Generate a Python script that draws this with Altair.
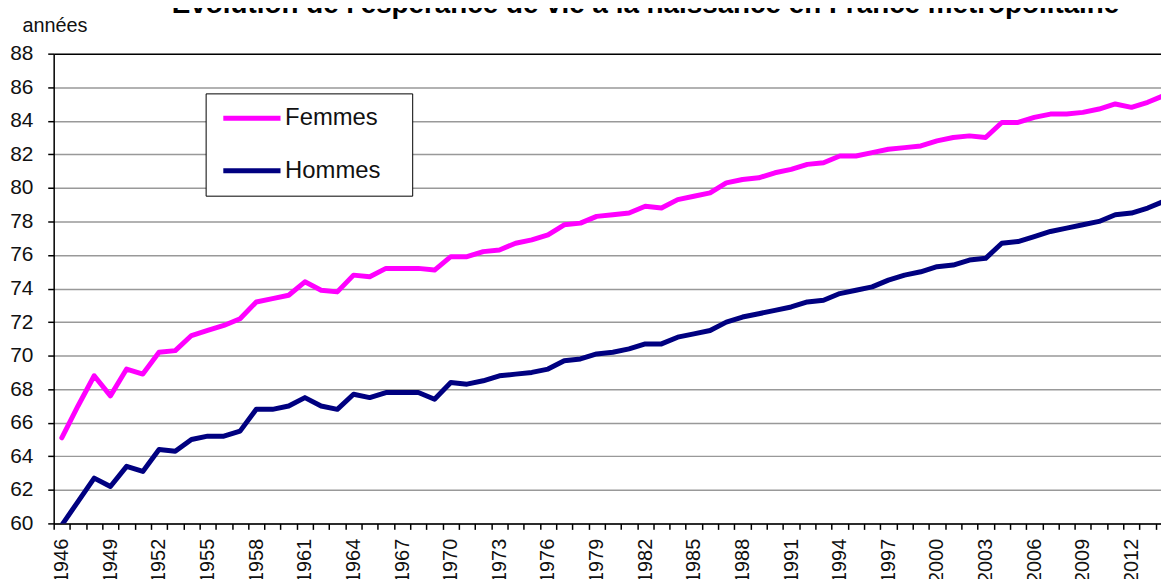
import altair as alt
import pandas as pd

years = list(range(1946, 2015))
femmes = [65.1, 67.0, 68.8, 67.6, 69.2, 68.9, 70.2, 70.3, 71.2, 71.5,
          71.8, 72.2, 73.2, 73.4, 73.6, 74.4, 73.9, 73.8, 74.8, 74.7,
          75.2, 75.2, 75.2, 75.1, 75.9, 75.9, 76.2, 76.3, 76.7, 76.9,
          77.2, 77.8, 77.9, 78.3, 78.4, 78.5, 78.9, 78.8, 79.3, 79.5,
          79.7, 80.3, 80.5, 80.6, 80.9, 81.1, 81.4, 81.5, 81.9, 81.9,
          82.1, 82.3, 82.4, 82.5, 82.8, 83.0, 83.1, 83.0, 83.9, 83.9,
          84.2, 84.4, 84.4, 84.5, 84.7, 85.0, 84.8, 85.1, 85.5]
hommes = [59.9, 61.3, 62.7, 62.2, 63.4, 63.1, 64.4, 64.3, 65.0, 65.2,
          65.2, 65.5, 66.8, 66.8, 67.0, 67.5, 67.0, 66.8, 67.7, 67.5,
          67.8, 67.8, 67.8, 67.4, 68.4, 68.3, 68.5, 68.8, 68.9, 69.0,
          69.2, 69.7, 69.8, 70.1, 70.2, 70.4, 70.7, 70.7, 71.1, 71.3,
          71.5, 72.0, 72.3, 72.5, 72.7, 72.9, 73.2, 73.3, 73.7, 73.9,
          74.1, 74.5, 74.8, 75.0, 75.3, 75.4, 75.7, 75.8, 76.7, 76.8,
          77.1, 77.4, 77.6, 77.8, 78.0, 78.4, 78.5, 78.8, 79.2]
series_names = ["Femmes", "Hommes"]
series_colors = ["#FF00FF", "#000080"]
y_ticks = list(range(60, 89, 2))
title_text = "Évolution de l'espérance de vie à la naissance en France métropolitaine"
y_title = "années"

df = pd.DataFrame({
    "annee": years + years,
    "esperance": femmes + hommes,
    "sexe": [series_names[0]] * len(years) + [series_names[1]] * len(years),
})
title_df = pd.DataFrame({"titre": [title_text]})

boundaries = [y - 0.5 for y in years]
FONT = "Liberation Sans"
PLOT_W = 1115
PLOT_H = 473
X_MIN = years[0] - 0.5
X_MAX = X_MIN + PLOT_W / 16.32
step_px = PLOT_W / (X_MAX - X_MIN)

x_axis = alt.Axis(
    values=boundaries,
    labelExpr="(datum.value + 0.5 - 1946) % 3 == 0 ? format(datum.value + 0.5, 'd') : ''",
    labelAngle=-90, labelOffset=step_px / 2, labelPadding=9,
    tickSize=6, tickColor="black", tickWidth=1.5,
    domainColor="black", domainWidth=1.5,
    grid=False, title=None,
    labelFont=FONT, labelFontSize=20, labelColor="#111",
    labelOverlap=False, labelFlush=False, labelBound=False,
)

y_axis = alt.Axis(
    values=y_ticks, grid=True,
    gridColor={"condition": {"test": "datum.value == 88", "value": "#000000"}, "value": "#999999"},
    gridWidth=1.5,
    tickSize=6, tickColor="black", tickWidth=1.5,
    domainColor="black", domainWidth=1.5,
    labelFont=FONT, labelFontSize=21, labelColor="#111", labelPadding=15,
    title=y_title, titleAngle=0, titleAlign="left", titleBaseline="alphabetic",
    titleX=-32, titleY=-22, titleFont=FONT, titleFontSize=20,
    titleFontWeight="normal", titleColor="#111",
)

legend = alt.Legend(
    orient="none", legendX=153, legendY=40, title=None,
    symbolType="M-0.9,0H6.3", symbolSize=256, symbolStrokeWidth=5,
    labelFont=FONT, labelFontSize=24, labelColor="#111", labelOffset=43,
    labelExpr="datum.label + '\u2800'",
    padding=13, rowPadding=29,
    strokeColor="black", fillColor="white", cornerRadius=0,
)

lines = alt.Chart(df).mark_line(strokeWidth=5, clip=True, strokeCap="round", strokeJoin="round").encode(
    x=alt.X("annee:Q", scale=alt.Scale(domain=[X_MIN, X_MAX], nice=False, zero=False), axis=x_axis),
    y=alt.Y("esperance:Q", scale=alt.Scale(domain=[60, 88], nice=False, zero=False), axis=y_axis),
    color=alt.Color("sexe:N", scale=alt.Scale(domain=series_names, range=series_colors), legend=legend),
)

titre = alt.Chart(title_df).mark_text(
    align="left", baseline="alphabetic", font=FONT, fontSize=28, fontWeight="bold", color="black",
).encode(
    text="titre:N", x=alt.value(119), y=alt.value(-41),
)

chart = alt.layer(lines, titre).properties(
    width=PLOT_W, height=PLOT_H,
    autosize=alt.AutoSizeParams(type="none"),
    padding={"left": 46, "top": 44, "right": 0, "bottom": 54},
).configure_view(stroke=None).configure(background="white")

chart.save("out.html", embed_options={"renderer": "svg", "actions": False})
